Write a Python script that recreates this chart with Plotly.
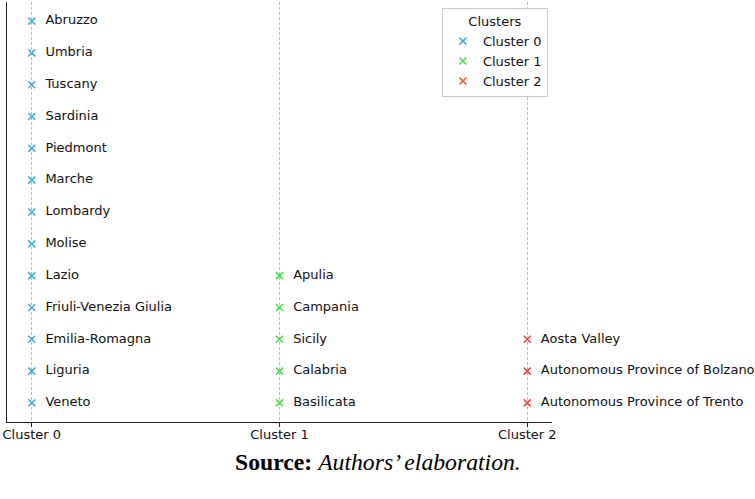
import plotly.graph_objects as go

cluster_labels = ["Cluster 0", "Cluster 1", "Cluster 2"]
cluster0 = ["Veneto", "Liguria", "Emilia-Romagna", "Friuli-Venezia Giulia", "Lazio",
            "Molise", "Lombardy", "Marche", "Piedmont", "Sardinia", "Tuscany", "Umbria", "Abruzzo"]
cluster1 = ["Basilicata", "Calabria", "Sicily", "Campania", "Apulia"]
cluster2 = ["Autonomous Province of Trento", "Autonomous Province of Bolzano", "Aosta Valley"]
colors = ["#45aee0", "#4fd94f", "#f24a3c"]

groups = [cluster0, cluster1, cluster2]

fig = go.Figure()
for ci, regions in enumerate(groups):
    fig.add_trace(go.Scatter(
        x=[ci] * len(regions),
        y=list(range(len(regions))),
        mode="markers+text",
        text=["  " + r for r in regions],
        textposition="middle right",
        textfont=dict(family="DejaVu Sans", size=13, color="#111111"),
        marker=dict(symbol="x-thin", size=7, line=dict(width=1.6, color=colors[ci]), color=colors[ci]),
        name=cluster_labels[ci],
        cliponaxis=False,
    ))

fig.update_layout(
    width=755, height=499,
    margin=dict(l=7, r=203, t=2, b=77),
    plot_bgcolor="white", paper_bgcolor="white",
    showlegend=True,
    legend=dict(
        title=dict(text="Clusters", side="top center",
                   font=dict(family="DejaVu Sans", size=13, color="#111")),
        font=dict(family="DejaVu Sans", size=13, color="#111"),
        x=0.798, y=0.985, xanchor="left", yanchor="top",
        bordercolor="#cccccc", borderwidth=1, bgcolor="white",
        tracegroupgap=0,
    ),
    xaxis=dict(
        range=[-0.1, 2.1], tickmode="array", tickvals=[0, 1, 2], ticktext=cluster_labels,
        showgrid=True, gridcolor="#bbbbbb", griddash="3px,2px", gridwidth=0.7,
        showline=True, linecolor="#222", linewidth=1.2,
        ticks="outside", ticklen=4, tickcolor="#222",
        ticklabelstandoff=-4,
        tickfont=dict(family="DejaVu Sans", size=13, color="#111"),
        zeroline=False,
    ),
    yaxis=dict(
        range=[-0.6, 12.6], showticklabels=False, showgrid=False, zeroline=False,
        showline=True, linecolor="#222", linewidth=1.2, ticks="",
    ),
    annotations=[dict(
        text="<b>Source:</b> <i>Authors’ elaboration.</i>",
        xref="paper", yref="paper", x=(378 - 7) / 545, y=-0.095,
        xanchor="center", yanchor="middle", showarrow=False,
        font=dict(family="Liberation Serif", size=23.7, color="#000"),
    )],
)

fig.write_html("out.html")
